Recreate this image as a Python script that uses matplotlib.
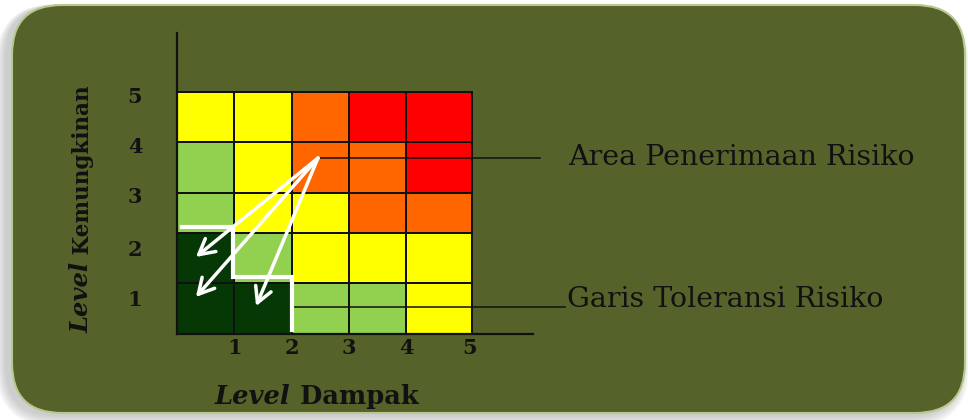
import numpy as np
import matplotlib
matplotlib.use("Agg")
import matplotlib.pyplot as plt
from matplotlib.colors import ListedColormap
from matplotlib.patches import FancyBboxPatch

# risk levels per cell, bottom row (kemungkinan 1) first
# 0 = dark green, 1 = light green, 2 = yellow, 3 = orange, 4 = red
risk_matrix = np.array([
    [0, 0, 1, 1, 2],
    [0, 1, 2, 2, 2],
    [1, 2, 2, 3, 3],
    [1, 2, 3, 3, 4],
    [2, 2, 3, 4, 4],
])
level_labels = ["1", "2", "3", "4", "5"]
risk_colors = ["#063806", "#92d050", "#ffff00", "#ff6600", "#ff0000"]

# cell edges as drawn in the picture (last column wider, row 3 shorter)
col_edges = [0, 1, 2, 3, 4, 5.15]
row_edges = [0, 1, 2, 2.78, 3.78, 4.78]
xtick_pos = [1, 2, 3, 4, 5.1]
ytick_pos = [0.71, 1.70, 2.74, 3.73, 4.71]

# tolerance step line and arrows towards the accepted area
tol_x = [0.09, 0.98, 0.98, 2.0, 2.0]
tol_y = [2.12, 2.12, 1.12, 1.12, 0.08]
arrow_start = (2.46, 3.47)
arrow_ends = [(0.33, 1.52), (0.33, 0.73), (1.38, 0.55)]

W, H = 968, 420
fig = plt.figure(figsize=(W / 100, H / 100), dpi=100)
fig.patch.set_facecolor("white")

# background panel with shadow
bg = fig.add_axes([0, 0, 1, 1])
bg.set_xlim(0, W)
bg.set_ylim(H, 0)
bg.axis("off")
for i in range(10, 0, -1):
    sh = FancyBboxPatch((12 - 6 - i, 5 + 2 - i * 0.3), 953 + 2 * i, 408 + 1.5 * i,
                        boxstyle="round,pad=0,rounding_size=%d" % (50 + i),
                        facecolor="#9a9a9a", edgecolor="none", alpha=0.06)
    bg.add_patch(sh)
panel = FancyBboxPatch((12, 5), 953, 408, boxstyle="round,pad=0,rounding_size=50",
                       facecolor="#55632a", edgecolor="#b7c98d", linewidth=1.5)
bg.add_patch(panel)

# matrix axes
x_unit, y_unit = 57.3, 50.7
xmax, ymax = 6.21, 5.94
ax = fig.add_axes([177 / W, (H - 334) / H, xmax * x_unit / W, ymax * y_unit / H])
ax.set_facecolor("none")
ax.set_xlim(0, xmax)
ax.set_ylim(0, ymax)

cmap = ListedColormap(risk_colors)
ax.pcolormesh(col_edges, row_edges, risk_matrix, cmap=cmap, vmin=-0.5, vmax=4.5,
              edgecolors="#111111", linewidth=1.4)

for s in ["top", "right"]:
    ax.spines[s].set_visible(False)
for s in ["left", "bottom"]:
    ax.spines[s].set_color("#111111")
    ax.spines[s].set_linewidth(1.6)

tick_font = dict(family="DejaVu Serif", weight="bold", size=15, color="#111111")
ax.set_xticks(xtick_pos)
ax.set_xticklabels(level_labels, **tick_font)
ax.set_yticks(ytick_pos)
ax.set_yticklabels(level_labels, **tick_font)
ax.tick_params(axis="x", length=0, pad=3)
ax.tick_params(axis="y", length=0, pad=25)

# leader lines and right-hand labels
ax.plot([arrow_start[0], 6.33], [3.48, 3.48], color="#111111", lw=1.1, clip_on=False, zorder=3)
ax.plot([2.0, 6.77], [0.53, 0.53], color="#111111", lw=1.1, clip_on=False, zorder=3)
txt_font = dict(family="DejaVu Serif", size=20.5, color="#111111")
ax.text(6.82, 3.49, "Area Penerimaan Risiko", va="center", ha="left", **txt_font)
ax.text(6.80, 0.53, "Garis Toleransi Risiko", va="baseline", ha="left", **txt_font)

# tolerance line
ax.plot(tol_x, tol_y, color="white", lw=3, solid_joinstyle="miter", zorder=4, clip_on=False)

# arrows
for end in arrow_ends:
    ax.annotate("", xy=end, xytext=arrow_start,
                arrowprops=dict(arrowstyle="->,head_length=1.1,head_width=0.6",
                                color="white", lw=2.5, shrinkA=0, shrinkB=0),
                zorder=5)

# axis titles with italic "Level"
lbl = dict(family="DejaVu Serif", weight="bold", color="#111111")
t1 = bg.text(215, 404, "Level", style="italic", ha="left", va="baseline", size=18.5, **lbl)
bg.annotate(" Dampak", xy=(1, 0), xycoords=t1, ha="left", va="bottom", size=18.5, **lbl)

t2 = bg.text(89, 333, "Level", style="italic", rotation=90, rotation_mode="anchor",
             ha="left", va="baseline", size=17.5, **lbl)
bg.annotate(" Kemungkinan", xy=(1, 1), xycoords=t2, rotation=90, rotation_mode="anchor",
            ha="left", va="bottom", size=15.5, **lbl)

fig.savefig("out.png", dpi=100, facecolor=fig.get_facecolor())
